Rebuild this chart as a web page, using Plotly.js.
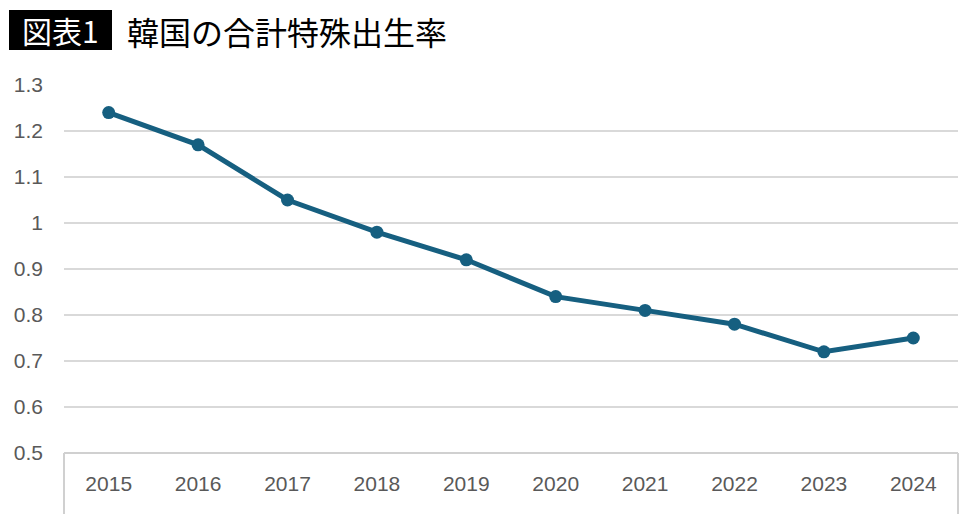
<!DOCTYPE html>
<html>
<head>
<meta charset="utf-8">
<script src="https://cdn.plot.ly/plotly-3.0.1.min.js"></script>
<style>html,body{margin:0;padding:0;background:#fff;overflow:hidden;}#chart{width:973px;height:514px;}</style>
</head>
<body>
<div id="chart"></div>
<script>
const years = ['2015','2016','2017','2018','2019','2020','2021','2022','2023','2024'];
const tfr = [1.24, 1.17, 1.05, 0.98, 0.92, 0.84, 0.81, 0.78, 0.72, 0.75];
const yTicks = [0.5, 0.6, 0.7, 0.8, 0.9, 1.0, 1.1, 1.2, 1.3];
const yTickText = ['0.5','0.6','0.7','0.8','0.9','1','1.1','1.2','1.3'];
const badge = '図表1';
const titleText = '韓国の合計特殊出生率';

const W = 973, H = 514, L = 64, R = 15, T = 85, B = 61;
const pw = W - L - R, ph = H - T - B;
const px = x => (x - L) / pw;
const py = y => (H - B - y) / ph;

const trace = {
  x: years, y: tfr, type: 'scatter', mode: 'lines+markers',
  line: {color: '#165f80', width: 5},
  marker: {color: '#165f80', size: 13},
  cliponaxis: false,
  hoverinfo: 'skip'
};

const tickFont = {family: 'Liberation Sans, Arial, sans-serif', size: 21, color: '#595959'};

const layout = {
  width: W, height: H,
  margin: {l: L, r: R, t: T, b: B, pad: 0, autoexpand: false},
  paper_bgcolor: '#ffffff', plot_bgcolor: '#ffffff',
  showlegend: false,
  xaxis: {
    type: 'category', range: [-0.5, years.length - 0.5], autorange: false, automargin: false,
    showgrid: false, zeroline: false, showline: false,
    ticks: '', tickfont: tickFont, ticklabelstandoff: 16, fixedrange: true
  },
  yaxis: {
    range: [0.5, 1.3], autorange: false, automargin: false, tickvals: yTicks, ticktext: yTickText,
    showgrid: true, gridcolor: '#d9d9d9', gridwidth: 2,
    zeroline: false, showline: false, ticks: '',
    tickfont: tickFont, ticklabelstandoff: 20, fixedrange: true
  },
  shapes: [
    {type: 'line', xref: 'paper', yref: 'paper', x0: 0, x1: 1, y0: 0, y1: 0, line: {color: '#d0d0d0', width: 2}},
    {type: 'line', xref: 'paper', yref: 'paper', x0: 0, x1: 0, y0: 0, y1: -0.3, line: {color: '#d0d0d0', width: 2}},
    {type: 'line', xref: 'paper', yref: 'paper', x0: 1, x1: 1, y0: 0, y1: -0.3, line: {color: '#d0d0d0', width: 2}},
    {type: 'rect', xref: 'paper', yref: 'paper', x0: px(9), x1: px(112), y0: py(50), y1: py(10), fillcolor: '#000000', line: {width: 0}}
  ],
  annotations: [
    {xref: 'paper', yref: 'paper', x: px(60.5), y: py(30), xanchor: 'center', yanchor: 'middle',
     text: badge, showarrow: false, font: {family: 'Noto Sans CJK JP', size: 30, color: '#ffffff'}},
    {xref: 'paper', yref: 'paper', x: px(125), y: py(31), xanchor: 'left', yanchor: 'middle',
     text: titleText, showarrow: false, font: {family: 'Noto Sans CJK JP', size: 32, color: '#000000'}}
  ]
};

Plotly.newPlot('chart', [trace], layout, {displayModeBar: false, staticPlot: true});
</script>
</body>
</html>
